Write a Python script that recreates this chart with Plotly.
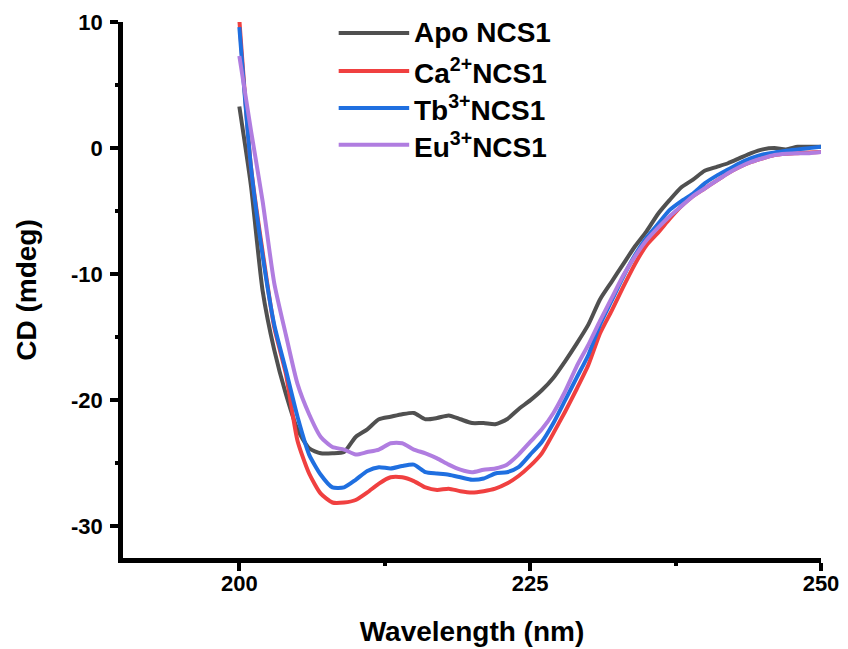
import plotly.graph_objects as go

# ---- data ----
wavelength = list(range(200, 251))

apo_ncs1 = [3.3, -3.0, -11.3, -16.0, -19.5, -22.3, -23.8, -24.2, -24.2, -24.1,
            -22.9, -22.3, -21.5, -21.3, -21.1, -21.0, -21.5, -21.4, -21.2, -21.5,
            -21.8, -21.8, -21.9, -21.5, -20.7, -20.0, -19.2, -18.2, -16.9, -15.5,
            -14.0, -12.0, -10.6, -9.2, -7.8, -6.6, -5.2, -4.1, -3.1, -2.5,
            -1.8, -1.5, -1.2, -0.8, -0.4, -0.1, 0.0, -0.1, 0.1, 0.1, 0.1]

ca_ncs1 = [10.2, -1.5, -8.2, -14.2, -17.9, -23.2, -25.8, -27.4, -28.1, -28.1,
           -27.9, -27.3, -26.6, -26.1, -26.1, -26.4, -26.9, -27.1, -27.0, -27.2,
           -27.3, -27.2, -27.0, -26.6, -26.0, -25.2, -24.2, -22.6, -20.9, -19.1,
           -17.2, -14.7, -12.9, -11.0, -9.2, -7.7, -6.7, -5.6, -4.6, -3.8,
           -3.2, -2.6, -2.0, -1.5, -1.1, -0.8, -0.55, -0.45, -0.4, -0.35, -0.3]

tb_ncs1 = [9.6, -1.5, -8.5, -14.0, -17.6, -21.3, -24.3, -25.9, -26.9, -26.9,
           -26.3, -25.6, -25.3, -25.4, -25.2, -25.1, -25.7, -25.8, -25.9, -26.1,
           -26.3, -26.2, -25.8, -25.7, -25.3, -24.3, -23.3, -21.8, -20.0, -18.2,
           -16.4, -14.0, -12.1, -10.2, -8.5, -7.1, -6.0, -4.9, -4.2, -3.6,
           -2.8, -2.2, -1.7, -1.2, -0.8, -0.5, -0.35, -0.2, -0.1, 0.0, 0.1]

eu_ncs1 = [7.3, 1.4, -4.2, -10.7, -14.8, -18.7, -21.1, -22.9, -23.7, -23.9,
           -24.3, -24.1, -23.9, -23.4, -23.4, -23.9, -24.2, -24.6, -25.1, -25.5,
           -25.7, -25.5, -25.4, -25.1, -24.3, -23.3, -22.3, -21.0, -19.3, -17.3,
           -15.6, -13.7, -11.9, -10.1, -8.6, -7.3, -6.3, -5.4, -4.6, -3.8,
           -3.2, -2.6, -2.0, -1.5, -1.1, -0.8, -0.55, -0.45, -0.4, -0.4, -0.3]

series_names = ["Apo NCS1", "Ca<sup>2+</sup>NCS1", "Tb<sup>3+</sup>NCS1", "Eu<sup>3+</sup>NCS1"]
series_values = [apo_ncs1, ca_ncs1, tb_ncs1, eu_ncs1]
colors = ["#505050", "#f04040", "#1f6fe0", "#b07de0"]

x_ticks = [200, 225, 250]
y_ticks = [-30, -20, -10, 0, 10]

FONT = "Liberation Sans, Arial, sans-serif"

fig = go.Figure()
for name, vals, col in zip(series_names, series_values, colors):
    fig.add_trace(go.Scatter(
        x=wavelength, y=vals, mode="lines", name=name,
        line=dict(color=col, width=4, shape="spline", smoothing=0.6),
        showlegend=False,
    ))

# manual legend (long line samples like the reference)
legend_y = [0.9795, 0.9087, 0.8397, 0.7708]
for name, col, ly in zip(series_names, colors, legend_y):
    fig.add_shape(type="line", xref="paper", yref="paper",
                  x0=0.309, x1=0.410, y0=ly, y1=ly,
                  line=dict(color=col, width=4))
    fig.add_annotation(xref="paper", yref="paper", x=0.414, y=ly,
                       xanchor="left", yanchor="middle", showarrow=False,
                       text="<b>" + name + "</b>",
                       font=dict(family=FONT, size=28, color="black"))

axis_common = dict(
    showline=True, linecolor="black", linewidth=4.5,
    ticks="outside", ticklen=8, tickwidth=4, tickcolor="black",
    showgrid=False, zeroline=False, mirror=False,
    tickfont=dict(family=FONT, size=22, color="black", weight="bold"),
)

fig.update_xaxes(
    range=[190, 250], tickvals=x_ticks, ticktext=[str(v) for v in x_ticks],
    ticklabelstandoff=-6,
    minor=dict(tickvals=[212.5, 237.5], ticks="outside", ticklen=3, tickwidth=4, tickcolor="black"),
    title=dict(text="Wavelength (nm)", standoff=28,
               font=dict(family=FONT, size=28, color="black", weight="bold")),
    **axis_common,
)
fig.update_yaxes(
    range=[-32.5, 10], tickvals=y_ticks, ticktext=[str(v) for v in y_ticks],
    ticklabelstandoff=3,
    minor=dict(tickvals=[-25, -15, -5, 5], ticks="outside", ticklen=3, tickwidth=4, tickcolor="black"),
    title=dict(text="CD (mdeg)", standoff=28,
               font=dict(family=FONT, size=28, color="black", weight="bold")),
    **axis_common,
)

fig.update_layout(
    width=848, height=649,
    margin=dict(l=123, r=27, t=22, b=91, autoexpand=False),
    plot_bgcolor="white", paper_bgcolor="white",
    showlegend=False,
)

fig.write_html("out.html")
